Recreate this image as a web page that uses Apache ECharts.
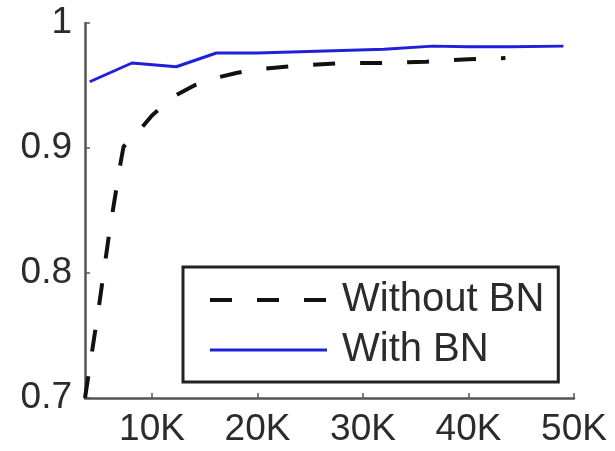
<!DOCTYPE html>
<html>
<head>
<meta charset="utf-8">
<script src="https://cdn.jsdelivr.net/npm/echarts@6/dist/echarts.min.js"></script>
<style>
  html, body { margin: 0; padding: 0; background: #fff; }
  #chart { width: 615px; height: 451px; }
</style>
</head>
<body>
<div id="chart"></div>
<script>
// Training iterations (x) and accuracy (y) for both runs
const withoutBNSteps = [3650, 5000, 6000, 7000, 7300, 8000, 9000, 10000, 12000, 14000, 16000, 18000, 20000, 24000, 28000, 32000, 36000, 40000, 43500];
const withoutBNAcc   = [0.700, 0.775, 0.835, 0.887, 0.901, 0.907, 0.916, 0.926, 0.941, 0.950, 0.956, 0.960, 0.963, 0.966, 0.968, 0.968, 0.969, 0.971, 0.972];

const withBNSteps = [4100, 8100, 12300, 16100, 20000, 24000, 28000, 32000, 36600, 40000, 44000, 49000];
const withBNAcc   = [0.953, 0.968, 0.965, 0.976, 0.976, 0.977, 0.978, 0.979, 0.9815, 0.981, 0.981, 0.9815];

const xTickValues = [10000, 20000, 30000, 40000, 50000];
const yTickValues = [0.7, 0.8, 0.9, 1];
const seriesNames = ['Without BN', 'With BN'];

const pair = (xs, ys) => xs.map((x, i) => [x, ys[i]]);

const FONT = '"Liberation Sans", Arial, sans-serif';
const TEXT = '#2b2b2b';

const chart = echarts.init(document.getElementById('chart'), null, { renderer: 'canvas' });
chart.setOption({
  animation: false,
  backgroundColor: '#ffffff',
  grid: { left: 85, top: 23, right: 41, bottom: 53, containLabel: false },
  xAxis: {
    type: 'value',
    min: 3650,
    max: 50000,
    axisLine: { show: true, onZero: false, lineStyle: { color: '#555', width: 2.5 } },
    axisTick: { show: true, inside: true, length: 5, customValues: xTickValues, lineStyle: { color: '#555', width: 1.5 } },
    axisLabel: {
      customValues: xTickValues,
      formatter: v => Math.round(v / 1000) + 'K',
      fontFamily: FONT, fontSize: 37, color: TEXT, margin: 13
    },
    splitLine: { show: false }
  },
  yAxis: {
    type: 'value',
    min: 0.7,
    max: 1,
    interval: 0.1,
    axisLine: { show: true, onZero: false, lineStyle: { color: '#555', width: 2.5 } },
    axisTick: { show: true, inside: true, length: 5, customValues: yTickValues, lineStyle: { color: '#555', width: 1.5 } },
    axisLabel: {
      customValues: yTickValues,
      formatter: v => (Math.abs(v - 1) < 1e-9 ? '1' : v.toFixed(1)),
      fontFamily: FONT, fontSize: 37, color: TEXT, margin: 13
    },
    splitLine: { show: false }
  },
  legend: {
    orient: 'vertical',
    left: 183,
    top: 267,
    padding: [13, 14, 12, 25],
    itemWidth: 117,
    itemHeight: 14,
    itemGap: 10,
    borderColor: '#222',
    borderWidth: 3,
    backgroundColor: '#fff',
    // line-only keys: hide the marker dot, keep series line width
    itemStyle: { opacity: 0 },
    lineStyle: { width: 'inherit' },
    data: seriesNames,
    textStyle: { fontFamily: FONT, fontSize: 40, color: TEXT, lineHeight: 40, padding: [0, 0, 0, 10] }
  },
  series: [
    {
      name: seriesNames[0],
      type: 'line',
      data: pair(withoutBNSteps, withoutBNAcc),
      showSymbol: false,
      symbol: 'none',
      clip: true,
      lineStyle: { color: '#111', width: 4, type: [22, 25], cap: 'butt' },
      itemStyle: { color: '#111' },
      z: 2
    },
    {
      name: seriesNames[1],
      type: 'line',
      data: pair(withBNSteps, withBNAcc),
      showSymbol: false,
      symbol: 'none',
      clip: true,
      lineStyle: { color: '#2020dc', width: 3 },
      itemStyle: { color: '#2020dc' },
      z: 3
    }
  ]
});
</script>
</body>
</html>
